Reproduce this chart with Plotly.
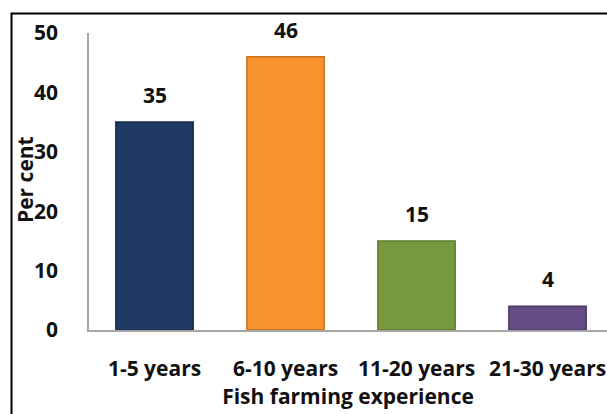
import plotly.graph_objects as go

categories = ["1-5 years", "6-10 years", "11-20 years", "21-30 years"]
percent = [35, 46, 15, 4]
bar_colors = ["#1F3B64", "#F7922E", "#789A3E", "#644C85"]
edge_colors = ["#162B4A", "#C8721F", "#5B7A2C", "#4A3666"]
y_ticks = [0, 10, 20, 30, 40, 50]

FONT = "Open Sans"
FS = 21
W, H = 607, 414
ML, MT, MB = 89, 33, 84
TXT = dict(family=FONT, size=FS, color="#111111", weight="bold")

fig = go.Figure()
fig.add_trace(go.Bar(
    x=categories,
    y=percent,
    width=0.59,
    marker=dict(color=bar_colors, line=dict(color=edge_colors, width=1.5)),
    hoverinfo="skip",
))

# value labels above each bar
for cat, val in zip(categories, percent):
    fig.add_annotation(
        x=cat, y=val, xref="x", yref="y",
        text=str(val), showarrow=False, yshift=27,
        font=TXT,
    )

# rotated y-axis title, positioned in pixel terms
fig.add_annotation(
    x=(25 - ML) / (W - ML), y=1 - (180 - MT) / (H - MT - MB),
    xref="paper", yref="paper", text="Per cent",
    xanchor="center", yanchor="middle",
    textangle=-90, showarrow=False, font=TXT,
)

# outer chart frame (left and top edges visible)
fig.add_shape(type="rect", xref="paper", yref="paper",
              x0=(11.5 - ML) / (W - ML), x1=1.2,
              y0=-0.5, y1=1 + (MT - 13.5) / (H - MT - MB),
              line=dict(color="#000000", width=2), layer="above")

fig.update_layout(
    width=W, height=H,
    margin=dict(l=ML, r=0, t=MT, b=MB),
    paper_bgcolor="white", plot_bgcolor="white",
    showlegend=False,
    font=TXT,
    xaxis=dict(
        range=[-0.5, 3.454],
        showline=True, linecolor="#A6A6A6", linewidth=1.5,
        showgrid=False, zeroline=False, ticks="",
        ticklabelstandoff=19,
        tickfont=TXT,
        title=dict(text="Fish farming experience", standoff=5, font=TXT),
    ),
    yaxis=dict(
        range=[0, 50], tickvals=y_ticks,
        showline=True, linecolor="#A6A6A6", linewidth=1.5,
        showgrid=False, zeroline=False, ticks="",
        ticklabelstandoff=25,
        tickfont=TXT,
    ),
)

fig.write_html("out.html")
